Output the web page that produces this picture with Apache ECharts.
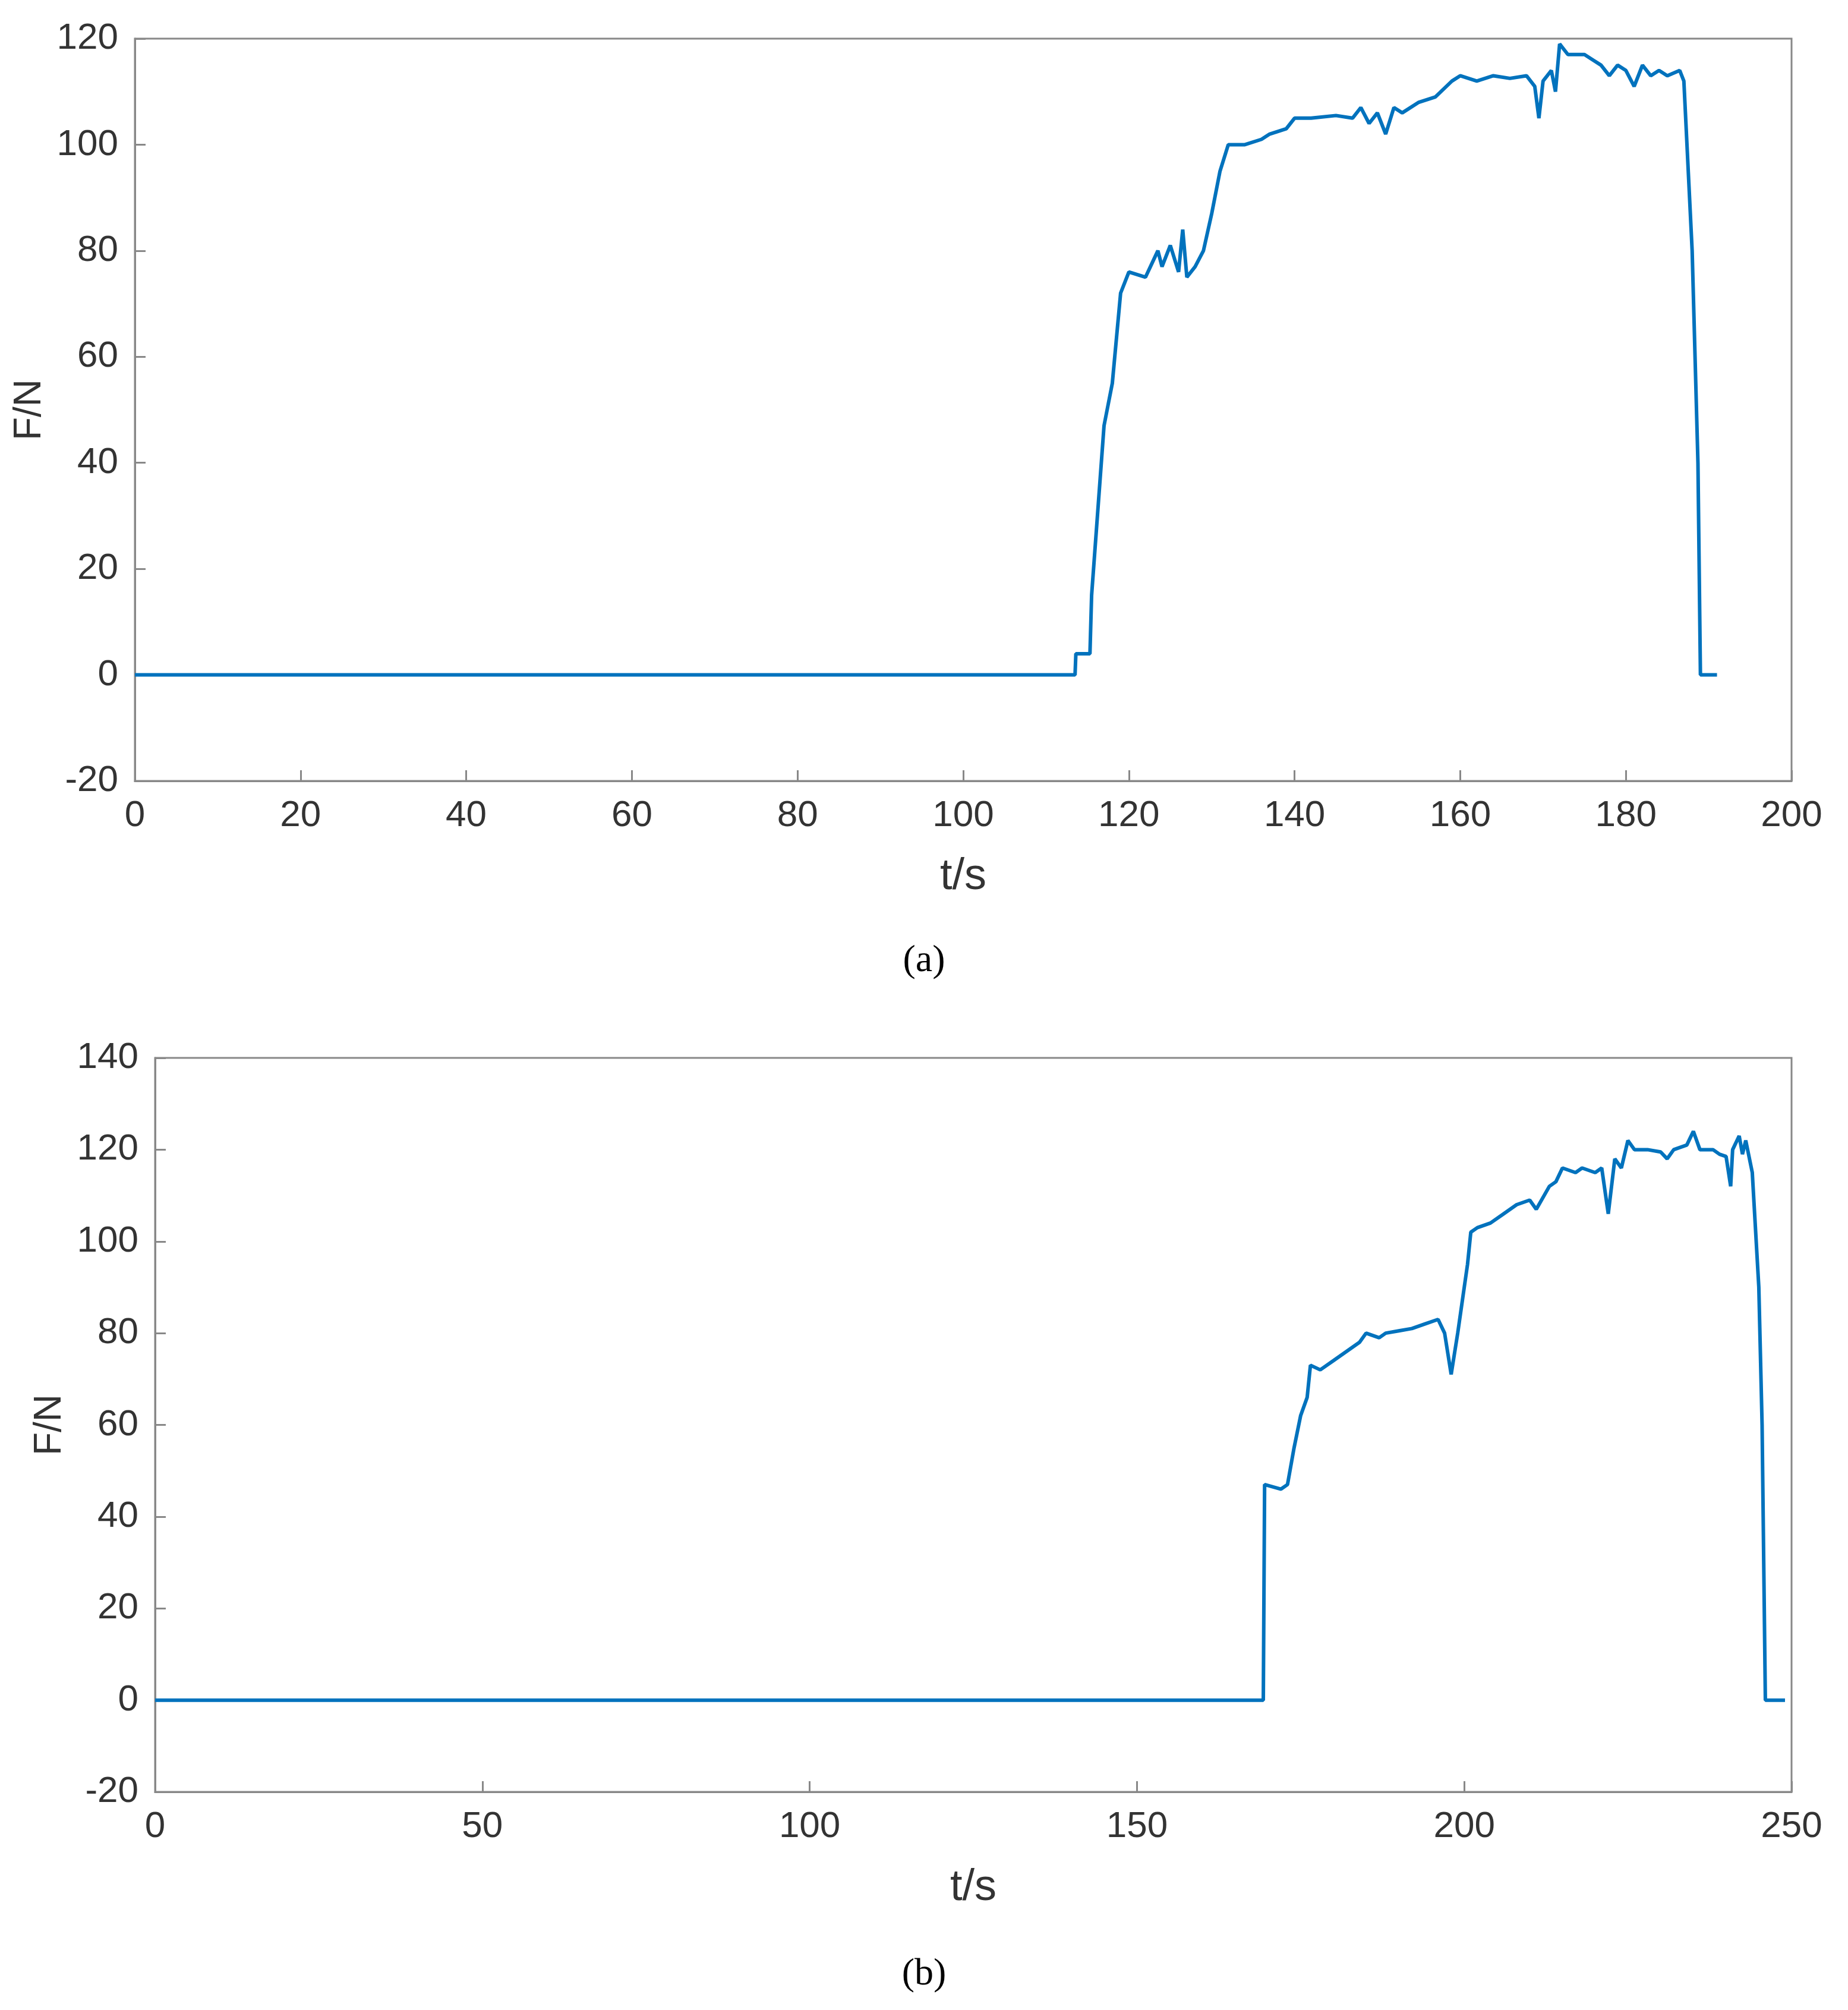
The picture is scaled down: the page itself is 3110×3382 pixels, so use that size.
<!DOCTYPE html>
<html>
<head>
<meta charset="utf-8">
<script src="https://cdn.jsdelivr.net/npm/echarts@6/dist/echarts.min.js"></script>
<style>html,body{margin:0;padding:0;background:#fff}#main{width:3110px;height:3382px}</style>
</head>
<body>
<div id="main"></div>
<script>
// panel (a): time [s], force [N]
var tA = [0, 113.5, 113.6, 115.3, 115.5, 117, 118, 119, 120, 122, 123.5, 124, 125, 126, 126.5, 127, 128, 129, 130, 131, 132, 134, 136, 137, 139, 140, 142, 145, 147, 148, 149, 150, 151, 152, 153, 155, 157, 159, 160, 162, 164, 166, 168, 169, 169.5, 170, 171, 171.5, 172, 173, 175, 176, 177, 178, 179, 180, 181, 182, 183, 184, 185, 186.5, 187, 188, 188.7, 189, 191];
var fA = [0, 0, 4, 4, 15, 47, 55, 72, 76, 75, 80, 77, 81, 76, 84, 75, 77, 80, 87, 95, 100, 100, 101, 102, 103, 105, 105, 105.5, 105, 107, 104, 106, 102, 107, 106, 108, 109, 112, 113, 112, 113, 112.5, 113, 111, 105, 112, 114, 110, 119, 117, 117, 116, 115, 113, 115, 114, 111, 115, 113, 114, 113, 114, 112, 80, 40, 0, 0];
// panel (b)
var tB = [0, 169.3, 169.5, 172, 173, 174, 175, 176, 176.5, 178, 180, 182, 184, 185, 187, 188, 190, 192, 194, 196, 197, 198, 199, 200, 200.5, 201, 202, 204, 206, 208, 210, 211, 213, 214, 215, 217, 218, 220, 221, 222, 223, 224, 225, 226, 228, 230, 231, 232, 234, 235, 236, 238, 239, 240, 240.7, 241, 242, 242.5, 243, 244, 245, 245.5, 246, 249];
var fB = [0, 0, 47, 46, 47, 55, 62, 66, 73, 72, 74, 76, 78, 80, 79, 80, 80.5, 81, 82, 83, 80, 71, 80, 90, 95, 102, 103, 104, 106, 108, 109, 107, 112, 113, 116, 115, 116, 115, 116, 106, 118, 116, 122, 120, 120, 119.5, 118, 120, 121, 124, 120, 120, 119, 118.5, 112, 120, 123, 119, 122, 115, 90, 60, 0, 0];

var chart = echarts.init(document.getElementById('main'));
var lab = {fontSize: 62, color: '#333', fontFamily: 'Liberation Sans', margin: 28};
function xAx(idx, max, interval) {
  return {gridIndex: idx, type: 'value', min: 0, max: max, interval: interval,
    name: 't/s', nameLocation: 'middle', nameGap: 125,
    nameTextStyle: {fontSize: 74, color: '#333', fontFamily: 'Liberation Sans'},
    axisLine: {onZero: false, lineStyle: {color: '#888', width: 3}},
    axisTick: {inside: true, length: 18, lineStyle: {color: '#888', width: 3}},
    axisLabel: lab, splitLine: {show: false}};
}
function yAx(idx, max) {
  return {gridIndex: idx, type: 'value', min: -20, max: max, interval: 20,
    name: 'F/N', nameLocation: 'middle', nameGap: 145,
    nameTextStyle: {fontSize: 64, color: '#333', fontFamily: 'Liberation Sans'},
    axisLine: {lineStyle: {color: '#888', width: 3}},
    axisTick: {inside: true, length: 18, lineStyle: {color: '#888', width: 3}},
    axisLabel: lab, splitLine: {show: false}};
}
chart.setOption({
  animation: false,
  backgroundColor: '#fff',
  title: [
    {text: '(a)', left: 'center', top: 1580, textStyle: {fontSize: 64, fontWeight: 'normal', color: '#000', fontFamily: 'Liberation Serif'}},
    {text: '(b)', left: 'center', top: 3285, textStyle: {fontSize: 64, fontWeight: 'normal', color: '#000', fontFamily: 'Liberation Serif'}}
  ],
  grid: [
    {left: 227, right: 95, top: 65, height: 1249, show: true, borderColor: '#888', borderWidth: 3},
    {left: 261, right: 95, top: 1780, height: 1235, show: true, borderColor: '#888', borderWidth: 3}
  ],
  xAxis: [xAx(0, 200, 20), xAx(1, 250, 50)],
  yAxis: [yAx(0, 120), yAx(1, 140)],
  series: [
    {type: 'line', xAxisIndex: 0, yAxisIndex: 0, showSymbol: false,
      lineStyle: {color: '#0072BD', width: 6}, data: tA.map(function (t, i) { return [t, fA[i]]; })},
    {type: 'line', xAxisIndex: 1, yAxisIndex: 1, showSymbol: false,
      lineStyle: {color: '#0072BD', width: 6}, data: tB.map(function (t, i) { return [t, fB[i]]; })}
  ]
});
</script>
</body>
</html>
